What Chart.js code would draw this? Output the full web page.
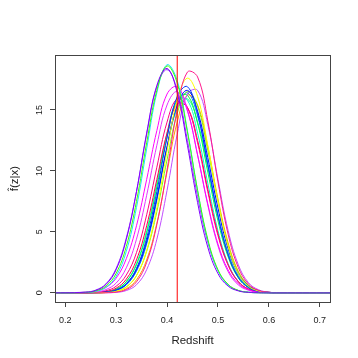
<!DOCTYPE html>
<html>
<head>
<meta charset="utf-8">
<script src="https://cdn.jsdelivr.net/npm/chart.js@4.4.0/dist/chart.umd.min.js"></script>
<style>
  html, body { margin: 0; padding: 0; background: #fff; }
  #wrap { width: 358px; height: 358px; }
</style>
</head>
<body>
<div id="wrap"><canvas id="chart" width="358" height="358"></canvas></div>
<script>
// redshift grid where each conditional density is evaluated
const redshift = [0.16, 0.24, 0.26, 0.28, 0.30, 0.32, 0.34, 0.36, 0.38, 0.40, 0.42, 0.44, 0.46, 0.48, 0.50, 0.52, 0.54, 0.56, 0.58, 0.60, 0.62, 0.74];

// f^(z|x) for each galaxy
const fz01 = [0, 0.05, 0.2, 0.68, 1.9, 4.37, 8.3, 13.1, 17.0, 18.4, 16.4, 12.1, 7.4, 3.75, 1.58, 0.55, 0.16, 0.04, 0.01, 0, 0, 0];
const fz02 = [0, 0.04, 0.16, 0.55, 1.59, 3.8, 7.5, 12.3, 16.6, 18.6, 17.2, 13.2, 8.4, 4.4, 1.9, 0.69, 0.2, 0.05, 0.01, 0, 0, 0];
const fz03 = [0, 0.03, 0.12, 0.45, 1.36, 3.4, 7.0, 11.8, 16.4, 18.7, 17.4, 13.3, 8.4, 4.3, 1.83, 0.64, 0.19, 0.05, 0.01, 0, 0, 0];
const fz04 = [0, 0.06, 0.23, 0.74, 2.0, 4.5, 8.3, 13.0, 16.9, 18.3, 16.6, 12.5, 7.9, 4.15, 1.82, 0.67, 0.2, 0.05, 0.01, 0, 0, 0];
const fz05 = [0, 0, 0, 0.01, 0.06, 0.27, 0.9, 2.5, 5.6, 10.1, 15.0, 18.1, 17.7, 14.1, 9.1, 4.8, 2.07, 0.72, 0.2, 0.05, 0.01, 0];
const fz06 = [0, 0, 0, 0.03, 0.13, 0.47, 1.42, 3.5, 7.0, 11.6, 15.8, 17.6, 16.1, 12.1, 7.5, 3.8, 1.57, 0.54, 0.15, 0.03, 0.01, 0];
const fz07 = [0, 0, 0.01, 0.06, 0.23, 0.75, 2.0, 4.5, 8.3, 12.7, 16.1, 16.9, 14.7, 10.5, 6.3, 3.1, 1.26, 0.42, 0.12, 0.03, 0, 0];
const fz08 = [0, 0, 0.01, 0.06, 0.22, 0.71, 1.89, 4.2, 7.75, 12.0, 15.4, 16.6, 14.9, 11.1, 6.95, 3.6, 1.57, 0.57, 0.17, 0.04, 0.01, 0];
const fz09 = [0, 0, 0, 0.01, 0.04, 0.19, 0.66, 1.9, 4.4, 8.4, 13.0, 16.3, 16.6, 13.8, 9.3, 5.1, 2.3, 0.83, 0.25, 0.06, 0.01, 0];
const fz10 = [0, 0.04, 0.14, 0.44, 1.2, 2.8, 5.5, 9.3, 13.3, 16.3, 16.9, 15.0, 11.3, 7.3, 4.0, 1.87, 0.75, 0.25, 0.07, 0.02, 0, 0];
const fz11 = [0, 0.02, 0.07, 0.27, 0.8, 2.05, 4.4, 8.0, 12.1, 15.4, 16.5, 14.9, 11.3, 7.2, 3.85, 1.73, 0.65, 0.21, 0.06, 0.01, 0, 0];
const fz12 = [0, 0.01, 0.04, 0.17, 0.54, 1.46, 3.3, 6.4, 10.3, 14.0, 15.9, 15.2, 12.3, 8.3, 4.7, 2.26, 0.9, 0.31, 0.09, 0.02, 0, 0];
const fz13 = [0, 0, 0.03, 0.11, 0.38, 1.12, 2.7, 5.5, 9.3, 13.1, 15.5, 15.2, 12.5, 8.5, 4.85, 2.3, 0.92, 0.3, 0.08, 0.02, 0, 0];
const fz14 = [0, 0, 0.02, 0.08, 0.3, 0.91, 2.3, 4.9, 8.7, 12.8, 15.8, 16.2, 13.9, 9.9, 5.9, 2.95, 1.23, 0.43, 0.12, 0.03, 0, 0];
const fz15 = [0, 0, 0.02, 0.08, 0.3, 0.93, 2.4, 5.1, 9.0, 13.1, 15.8, 15.8, 13.1, 9.0, 5.1, 2.4, 0.93, 0.3, 0.08, 0.02, 0, 0];
const fz16 = [0, 0, 0, 0.03, 0.14, 0.49, 1.41, 3.4, 6.65, 10.9, 14.7, 16.5, 15.3, 11.7, 7.5, 3.9, 1.7, 0.61, 0.18, 0.05, 0.01, 0];
const fz17 = [0, 0, 0, 0.02, 0.09, 0.34, 1.07, 2.7, 5.7, 9.9, 14.0, 16.2, 15.4, 12.0, 7.7, 4.1, 1.76, 0.62, 0.18, 0.04, 0.01, 0];
const fz18 = [0, 0, 0.01, 0.05, 0.2, 0.65, 1.78, 4.0, 7.6, 11.9, 15.3, 16.4, 14.5, 10.6, 6.4, 3.2, 1.34, 0.46, 0.13, 0.03, 0, 0];
const fz19 = [0, 0, 0.01, 0.06, 0.24, 0.76, 1.98, 4.3, 7.9, 11.9, 15.1, 15.9, 14.0, 10.3, 6.3, 3.25, 1.38, 0.49, 0.15, 0.03, 0, 0];

const curves = [fz01, fz02, fz03, fz04, fz05, fz06, fz07, fz08, fz09, fz10,
                fz11, fz12, fz13, fz14, fz15, fz16, fz17, fz18, fz19];
const curveColors = ['#7F00FF', '#40FF00', '#19E0FF', '#9933FF', '#FF1A8C', '#FFFF00', '#0033FF',
                     '#0000FF', '#C04DFF', '#FF00FF', '#E633FF', '#FF0080', '#FF0040', '#00FF40',
                     '#00FFCC', '#80FF00', '#FF9900', '#0080FF', '#00FF80'];

// true redshift (vertical line)
const zTrue = 0.42;

const xTicks = [0.2, 0.3, 0.4, 0.5, 0.6, 0.7];
const yTicks = [0, 5, 10, 15];

Chart.defaults.font.family = '"Liberation Sans", Arial, sans-serif';
Chart.defaults.color = '#222';

const datasets = [{
  data: [{x: zTrue, y: -5}, {x: zTrue, y: 25}],
  borderColor: '#FF0000',
  borderWidth: 1,
  pointRadius: 0
}];
curves.forEach((c, i) => {
  datasets.push({
    data: redshift.map((z, j) => ({x: z, y: c[j]})),
    borderColor: curveColors[i],
    borderWidth: 1,
    pointRadius: 0,
    tension: 0.4
  });
});

// box around the plot region, like R's bty="o"
const boxPlugin = {
  id: 'box',
  afterDraw(chart) {
    const {ctx, chartArea: a} = chart;
    ctx.save();
    ctx.strokeStyle = '#444';
    ctx.lineWidth = 1;
    ctx.strokeRect(a.left + 0.5, a.top + 0.5, a.right - a.left, a.bottom - a.top);
    ctx.restore();
  }
};

new Chart(document.getElementById('chart'), {
  type: 'line',
  data: { datasets: datasets },
  plugins: [boxPlugin],
  options: {
    responsive: false,
    devicePixelRatio: 1,
    animation: false,
    layout: { padding: { top: 55, right: 28, left: 0, bottom: 0 } },
    plugins: { legend: { display: false }, tooltip: { enabled: false } },
    scales: {
      x: {
        type: 'linear',
        min: 0.18,
        max: 0.72,
        afterBuildTicks: s => { s.ticks = xTicks.map(v => ({value: v})); },
        afterFit: s => { s.height = 56; },
        border: { display: false },
        grid: { drawOnChartArea: false, drawTicks: true, tickLength: 5, color: '#444' },
        ticks: {
          padding: 8,
          maxRotation: 0,
          font: { size: 9 },
          callback: v => v.toFixed(1)
        },
        title: {
          display: true,
          text: 'Redshift',
          font: { size: 11.5 },
          padding: { top: 0, bottom: 10 }
        }
      },
      y: {
        min: -0.75,
        max: 19.5,
        afterBuildTicks: s => { s.ticks = yTicks.map(v => ({value: v})); },
        afterFit: s => { s.width = 55; },
        border: { display: false },
        grid: { drawOnChartArea: false, drawTicks: true, tickLength: 5, color: '#444' },
        ticks: {
          padding: 5,
          minRotation: 90,
          maxRotation: 90,
          crossAlign: 'center',
          font: { size: 9 },
          callback: v => String(v)
        },
        title: {
          display: true,
          text: 'f\u0302(z|x)',
          font: { size: 11.5 },
          padding: { top: 8, bottom: 0 }
        }
      }
    }
  }
});
</script>
</body>
</html>
